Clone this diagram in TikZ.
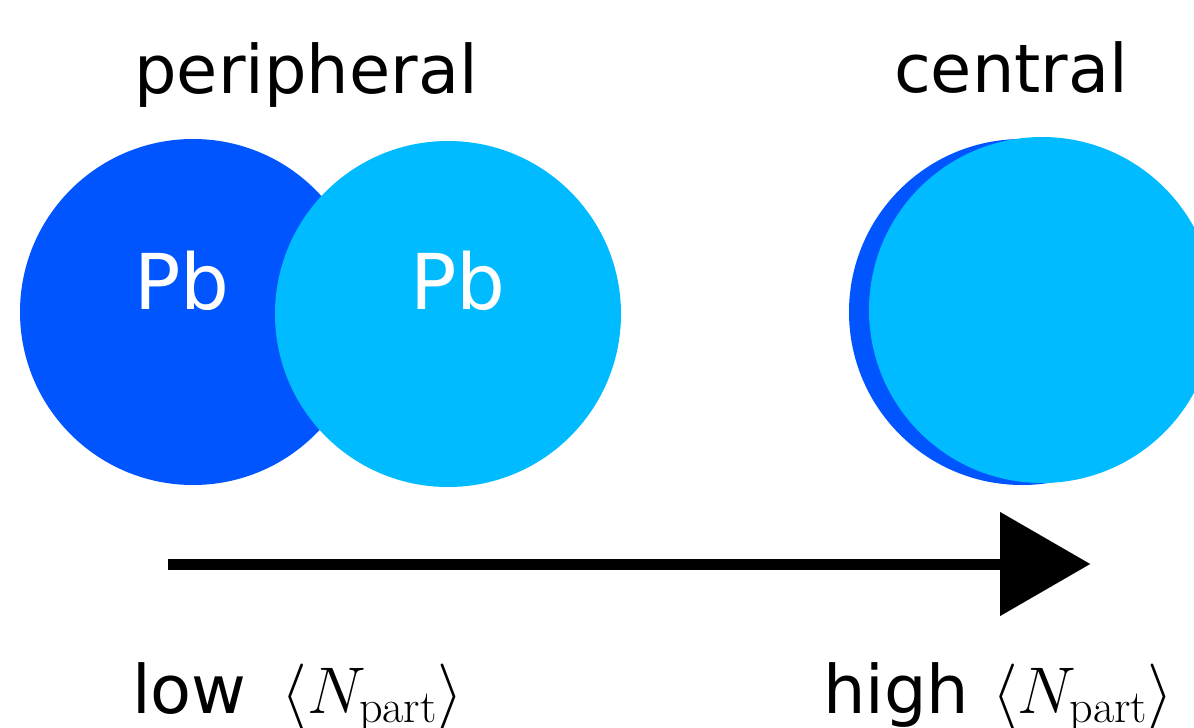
\documentclass[tikz,border=0pt]{standalone}
\usepackage{fix-cm}
\usepackage{fontspec}
\newfontfamily\labelfont{DejaVu Sans}
\usetikzlibrary{arrows.meta}
\definecolor{pbdark}{HTML}{0055FF}
\definecolor{pblight}{HTML}{00BBFF}

\begin{document}
\begin{tikzpicture}[x=1pt,y=-1pt,
  nucleus/.style={circle,inner sep=0pt,minimum size=346pt},
  title/.style={inner sep=0pt,anchor=base,font={\labelfont\fontsize{67}{80}\selectfont}},
  element/.style={inner sep=0pt,anchor=base,text=white,font={\labelfont\fontsize{77}{92}\selectfont}},
  npart/.style={inner sep=0pt,anchor=base west,font={\labelfont\fontsize{67}{80}\selectfont}},
  axis/.style={line width=11pt,-{Triangle[length=90pt,width=104pt,line width=0.01pt]}}]
\useasboundingbox (0,0) rectangle (1194,728);
\clip (0,0) rectangle (1194,728);
% peripheral collision
\node[nucleus,fill=pbdark] (leftA) at (193,312) {};
\node[nucleus,fill=pblight] (leftB) at (448,314) {};
\node[element] (pbA) at (182,309) {Pb};
\node[element] (pbB) at (458,309) {Pb};
\node[title] (peri) at (306,93) {peripheral};
% central collision
\node[nucleus,fill=pbdark] (rightA) at (1022,312) {};
\node[nucleus,fill=pblight] (rightB) at (1042,310) {};
\node[title] (cent) at (1011,92) {central};
% centrality axis
\coordinate (axstart) at (168,564);
\coordinate (axend) at (1090,564);
\draw[axis] (axstart) -- (axend);
\node[npart] (low) at (132,713) {low\hspace{35pt}{\fontsize{66}{79}\selectfont$\langle N_{\mathrm{part}}\rangle$}};
\node[npart] (high) at (823,713) {high\hspace{23pt}{\fontsize{66}{79}\selectfont$\langle N_{\mathrm{part}}\rangle$}};
\end{tikzpicture}
\end{document}
